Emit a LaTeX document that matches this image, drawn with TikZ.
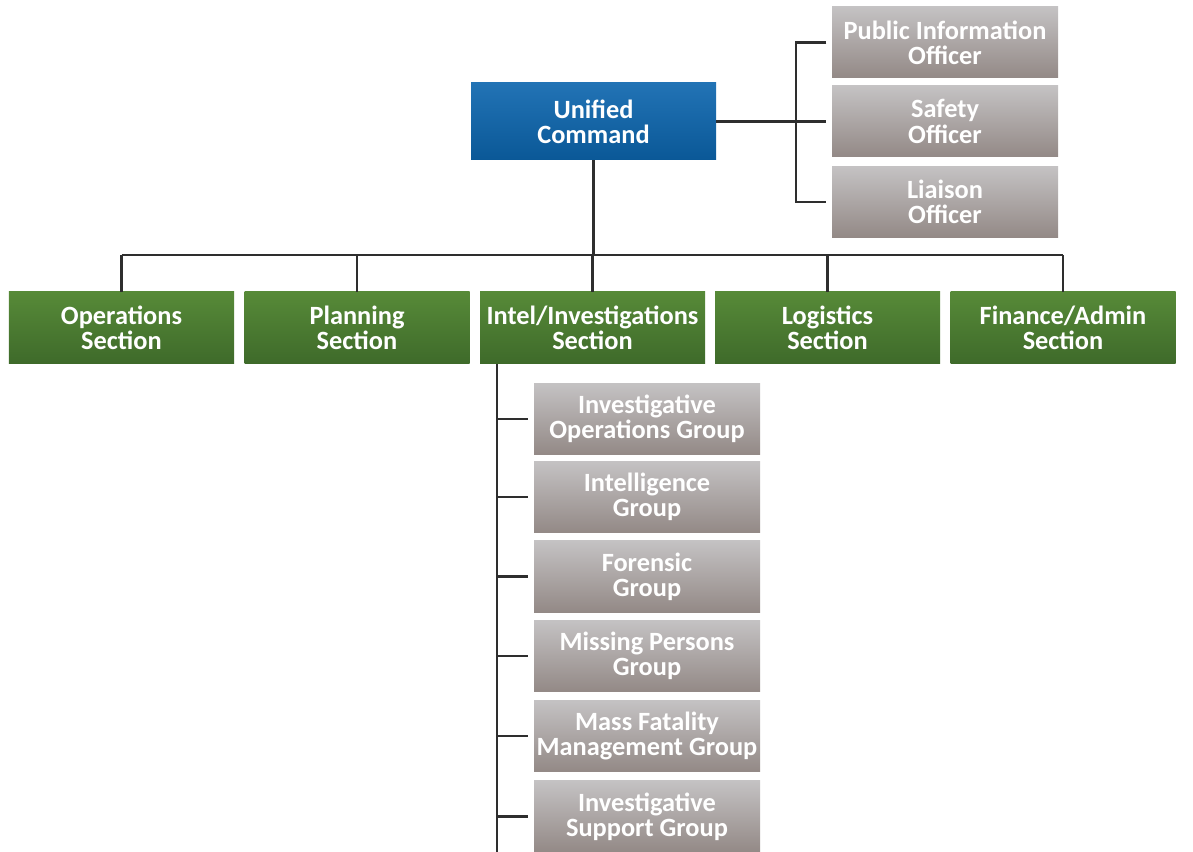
\documentclass[tikz,border=0pt]{standalone}
\usepackage{fontspec}
\setmainfont{Carlito}
\usetikzlibrary{positioning,calc}
\definecolor{ucTop}{HTML}{2273B5}
\definecolor{ucBot}{HTML}{0A5897}
\definecolor{secTop}{HTML}{578A38}
\definecolor{secBot}{HTML}{3E6A2A}
\definecolor{grTop}{HTML}{C4C2C3}
\definecolor{grBot}{HTML}{938986}
\definecolor{wire}{HTML}{2E2E2E}
\begin{document}
\begin{tikzpicture}[
every node/.style={align=center,text=white,font=\fontsize{15}{14.4}\selectfont\bfseries,inner sep=0pt},
ucbox/.style={top color=ucTop,bottom color=ucBot,minimum width=4.9cm,minimum height=1.54cm},
secbox/.style={top color=secTop,bottom color=secBot,minimum width=4.5cm,minimum height=1.44cm},
offbox/.style={top color=grTop,bottom color=grBot,minimum width=4.52cm,minimum height=1.42cm},
grpbox/.style={top color=grTop,bottom color=grBot,minimum width=4.52cm,minimum height=1.43cm},
wire/.style={draw=wire,line width=1.4pt}]
\useasboundingbox (0,0) rectangle (23.86,-17.04);
% command staff
\node[ucbox] (uc) at (11.87,-2.43) {Unified\\Command};
\node[offbox] (pio) at (18.9,-0.85) {Public Information\\Officer};
\node[offbox] (safety) at (18.9,-2.43) {Safety\\Officer};
\node[offbox] (liaison) at (18.9,-4.04) {Liaison\\Officer};
% general staff
\node[secbox] (ops) at (2.43,-6.56) {Operations\\Section};
\node[secbox] (plan) at (7.14,-6.56) {Planning\\Section};
\node[secbox] (intel) at (11.85,-6.56) {Intel/Investigations\\Section};
\node[secbox] (log) at (16.55,-6.56) {Logistics\\Section};
\node[secbox] (fin) at (21.26,-6.56) {Finance/Admin\\Section};
% intel groups
\node[grpbox] (g1) at (12.94,-8.38) {Investigative\\Operations Group};
\node[grpbox] (g2) at (12.94,-9.94) {Intelligence\\Group};
\node[grpbox] (g3) at (12.94,-11.53) {Forensic\\Group};
\node[grpbox] (g4) at (12.94,-13.12) {Missing Persons\\Group};
\node[grpbox] (g5) at (12.94,-14.72) {Mass Fatality\\Management Group};
\node[grpbox] (g6) at (12.94,-16.33) {Investigative\\Support Group};
\coordinate (br) at (15.92,-2.43);
\coordinate (bar) at (11.87,-5.1);
\coordinate (trunk) at (9.94,-7.28);
\coordinate (trunkend) at (9.94,-17.04);
\draw[wire] (uc.east) -- ([xshift=-3pt]safety.west);
\draw[wire] ([xshift=-3pt]pio.west) -| (br) |- ([xshift=-3pt]liaison.west);
\draw[wire] (uc.south) -- (bar);
\draw[wire] (ops.north |- bar) -- (fin.north |- bar);
\foreach \s in {ops,plan,intel,log,fin}
  \draw[wire] (\s.north) -- (\s.north |- bar);
\draw[wire] (trunk) -- (trunkend);
\foreach \g in {g1,g2,g3,g4,g5,g6}
  \draw[wire] (\g.west -| trunk) -- ([xshift=-3pt]\g.west);
\end{tikzpicture}
\end{document}
